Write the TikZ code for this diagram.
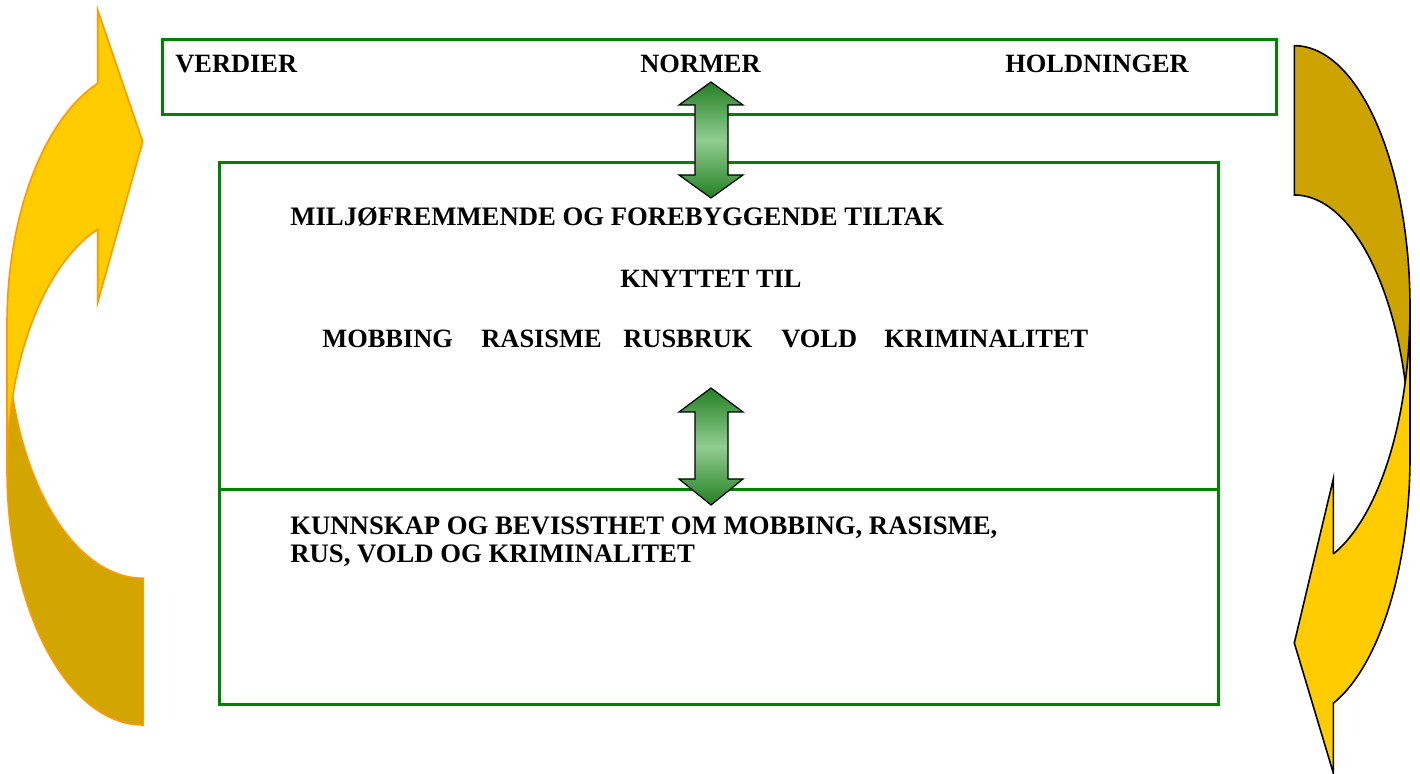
\documentclass[tikz,border=0pt]{standalone}
\usepackage{fontspec}
\setmainfont{Liberation Serif}
\definecolor{boxgreen}{RGB}{0,128,0}
\definecolor{dkg}{RGB}{36,128,36}
\definecolor{ltg}{RGB}{145,205,145}
\definecolor{gold}{RGB}{255,204,0}
\definecolor{ldark}{RGB}{211,165,0}
\definecolor{rdark}{RGB}{204,163,0}
\definecolor{orangeline}{RGB}{255,153,0}
\tikzset{
  greenbox/.style={draw=boxgreen, line width=1.5pt},
  lbl/.style={anchor=base west, inner sep=0pt, font=\bfseries\fontsize{13.2}{15}\selectfont},
  lblwide/.style={anchor=base west, inner sep=0pt, font=\bfseries\fontsize{13.35}{15}\selectfont},
  dblarrow/.style={draw=black, line width=0.6pt, line join=miter, top color=dkg, bottom color=dkg, middle color=ltg},
  lfront/.style={fill=gold, draw=orangeline, line width=0.8pt},
  lback/.style={fill=ldark, draw=orangeline, line width=0.8pt},
  rfront/.style={fill=gold, draw=black, line width=0.8pt},
  rback/.style={fill=rdark, draw=black, line width=0.8pt}
}
\begin{document}
\begin{tikzpicture}[x=0.5pt,y=-0.5pt]
\useasboundingbox (0,0) rectangle (1420,774);
% boxes
\draw[greenbox] (162,40) rectangle (1276,115);
\draw[greenbox] (219,163) rectangle (1218,705);
\draw[greenbox] (219,490) -- (1218,490);
% texts
\node[lbl] (verdier) at (175,73) {VERDIER};
\node[lbl] (normer) at (640,73) {NORMER};
\node[lbl] (holdn) at (1005,73) {HOLDNINGER};
\node[lblwide] (milj) at (290,226) {MILJØFREMMENDE OG FOREBYGGENDE TILTAK};
\node[lbl] (knyt) at (620,288) {KNYTTET TIL};
\node[lbl] (mob) at (322,348) {MOBBING};
\node[lbl] (ras) at (481,348) {RASISME};
\node[lbl] (rus) at (623,348) {RUSBRUK};
\node[lbl] (vold) at (781,348) {VOLD};
\node[lbl] (krim) at (884,348) {KRIMINALITET};
\node[lblwide] (kunn1) at (290,535) {KUNNSKAP OG BEVISSTHET OM MOBBING, RASISME,};
\node[lblwide] (kunn2) at (290,563) {RUS, VOLD OG KRIMINALITET};
% double arrows
\path[dblarrow] (711,82) -- (743,105) -- (728,105) -- (728,175) -- (743,175) -- (711,198) -- (679,175) -- (695,175) -- (695,105) -- (679,105) -- cycle;
\path[dblarrow] (711,388) -- (743,412) -- (728,412) -- (728,479) -- (743,479) -- (711,505) -- (679,479) -- (695,479) -- (695,412) -- (679,412) -- cycle;
% left curved arrow
\path[lback] (143.3,578.3) arc[start angle=90, end angle=180, x radius=136.3, y radius=254.8] -- (7,470.2) arc[start angle=180, end angle=90, x radius=136.3, y radius=254.8] -- cycle;
\path[lfront] (97.7,83.3) -- (97.7,10) -- (142.7,141.7) -- (97.7,302.7) -- (97.7,229.3) arc[start angle=250.45, end angle=180, x radius=136.3, y radius=254.8] -- (7,323.5) arc[start angle=180, end angle=250.45, x radius=136.3, y radius=254.8] -- cycle;
% right curved arrow
\path[rback] (1294.3,45.7) arc[start angle=-90, end angle=0, x radius=115.7, y radius=261.8] -- (1410,456.8) arc[start angle=0, end angle=-90, x radius=115.7, y radius=261.8] -- cycle;
\path[rfront] (1333.3,554) -- (1333.3,479) -- (1294.3,643) -- (1333.3,773) -- (1333.3,703.3) arc[start angle=70.3, end angle=0, x radius=115.7, y radius=261.8] -- (1410,307.5) arc[start angle=0, end angle=70.3, x radius=115.7, y radius=261.8] -- cycle;
\end{tikzpicture}
\end{document}
